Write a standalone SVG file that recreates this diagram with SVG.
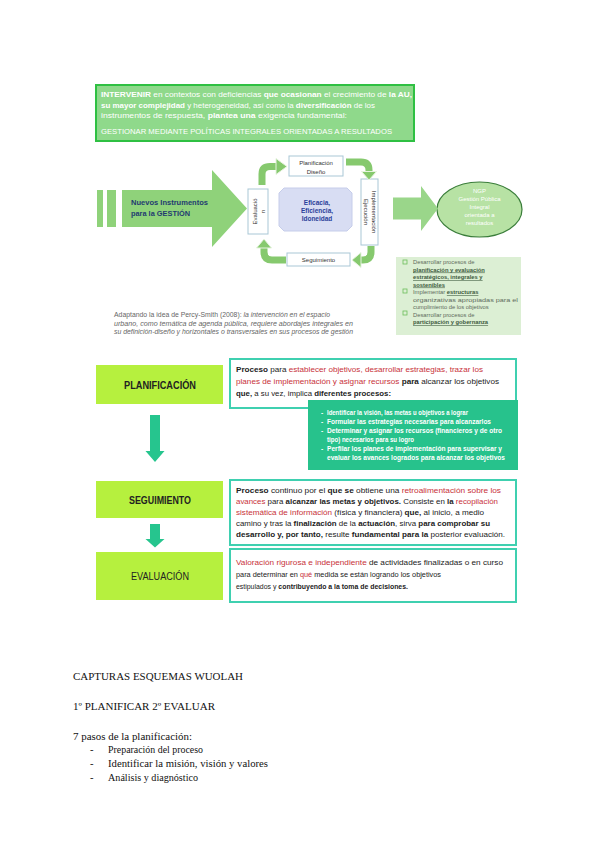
<svg xmlns="http://www.w3.org/2000/svg" width="600" height="848" viewBox="0 0 600 848">
<style>
.s{font-family:"Liberation Sans","Open Sans",sans-serif}
.w{fill:#ffffff}
.b{font-weight:bold}
.r{fill:#c8323a}
.sm{font-size:6px;fill:#333}
.box{fill:#ffffff;stroke:#a9c7d6;stroke-width:1}
.lab{fill:#b6f03e}
.tb{fill:#ffffff;stroke:#3fd0b0;stroke-width:2}
.bt{font-size:7.5px;fill:#222}
.ca{fill:#86c96e;stroke:#e6f3df;stroke-width:1}
.cs{fill:none;stroke:#86c96e;stroke-width:7}
.li{font-size:5.8px;fill:#5d6b5d}
.lu{text-decoration:underline;fill:#3d5a3d;font-weight:bold}
.tt{font-size:6.6px;fill:#ffffff;font-weight:bold}
.doc{font-family:"Liberation Serif","Times New Roman",serif;font-size:10.5px;fill:#111}
</style>
<rect width="600" height="848" fill="#ffffff"/>

<g id="top-box">
<rect x="96" y="85" width="318" height="56" fill="#8fd98b" stroke="#2fc043" stroke-width="2"/>
<text class="s w" font-size="7.4" x="101" y="97" textLength="311" lengthAdjust="spacingAndGlyphs"><tspan class="b">INTERVENIR</tspan> en contextos con deficiencias <tspan class="b">que ocasionan</tspan> el crecimiento de <tspan class="b">la AU,</tspan></text>
<text class="s w" font-size="7.4" x="101" y="107.5" textLength="274" lengthAdjust="spacingAndGlyphs"><tspan class="b">su mayor complejidad</tspan> y heterogeneidad, así como la <tspan class="b">diversificación</tspan> de los</text>
<text class="s w" font-size="7.4" x="101" y="118" textLength="246" lengthAdjust="spacingAndGlyphs">instrumentos de respuesta, <tspan class="b">plantea una</tspan> exigencia fundamental:</text>
<text class="s w" font-size="7.4" x="101" y="134" textLength="291" lengthAdjust="spacingAndGlyphs">GESTIONAR MEDIANTE POLÍTICAS INTEGRALES ORIENTADAS A RESULTADOS</text>
</g>

<g id="nuevos-instrumentos">
<rect x="97" y="190" width="6" height="37" fill="#8fd27a"/>
<rect x="107" y="190" width="9" height="37" fill="#8fd27a"/>
<polygon points="122,190 212,190 212,170 247,208.5 212,247 212,227 122,227" fill="#8fd27a"/>
<text class="s b" font-size="7.5" fill="#1f3b70" x="131" y="205" textLength="77" lengthAdjust="spacingAndGlyphs">Nuevos Instrumentos</text>
<text class="s b" font-size="7.5" fill="#1f3b70" x="131" y="216" textLength="59" lengthAdjust="spacingAndGlyphs">para la GESTIÓN</text>
</g>

<g id="evaluacion">
<rect class="box" x="248" y="189" width="20" height="45"/>
<g transform="translate(258,211.5) rotate(-90)">
<text class="s sm" x="0" y="-1" text-anchor="middle">Evaluació</text>
<text class="s sm" x="0" y="7" text-anchor="middle">n</text>
</g>
</g>

<g id="planificacion-diseno">
<rect class="box" x="289" y="156" width="54" height="20"/>
<text class="s sm" x="316" y="165" text-anchor="middle">Planificación</text>
<text class="s sm" x="316" y="173.5" text-anchor="middle">Diseño</text>
</g>

<g id="eficacia">
<path d="M284 188 L347 188 L352 193 L352 226 L347 231 L284 231 L279 226 L279 193 Z" fill="#d8ddf3" stroke="#c6cdea" stroke-width="1"/>
<text class="s b" font-size="6.5" fill="#2b3f9a" x="317" y="205" text-anchor="middle">Eficacia,</text>
<text class="s b" font-size="6.5" fill="#2b3f9a" x="317" y="213" text-anchor="middle">Eficiencia,</text>
<text class="s b" font-size="6.5" fill="#2b3f9a" x="317" y="221" text-anchor="middle">Idoneidad</text>
</g>

<g id="implementacion">
<rect class="box" x="361" y="179" width="17" height="66"/>
<g transform="translate(369.5,212) rotate(90)">
<text class="s sm" x="0" y="-2" text-anchor="middle">Implementación</text>
<text class="s sm" x="0" y="6" text-anchor="middle">Ejecución</text>
</g>
</g>

<g id="seguimiento-small">
<rect class="box" x="287" y="253" width="63" height="13"/>
<text class="s sm" x="318.5" y="262" text-anchor="middle">Seguimiento</text>
</g>

<g id="ngp">
<ellipse cx="479.5" cy="209.5" rx="42.5" ry="27.5" fill="#b7e2a4" stroke="#3a7d3a" stroke-width="1.2"/>
<text class="s w" font-size="6" x="479.5" y="193" text-anchor="middle">NGP</text>
<text class="s w" font-size="6" x="479.5" y="201" text-anchor="middle">Gestión Pública</text>
<text class="s w" font-size="6" x="479.5" y="209" text-anchor="middle">Integral</text>
<text class="s w" font-size="6" x="479.5" y="217" text-anchor="middle">orientada a</text>
<text class="s w" font-size="6" x="479.5" y="225" text-anchor="middle">resultados</text>
</g>

<g id="lista">
<rect x="396" y="257" width="125" height="78" fill="#dcefd4"/>
<rect x="403" y="260" width="4" height="4" fill="none" stroke="#6cbf5a" stroke-width="0.8"/>
<rect x="403" y="289" width="4" height="4" fill="none" stroke="#6cbf5a" stroke-width="0.8"/>
<rect x="403" y="311" width="4" height="4" fill="none" stroke="#6cbf5a" stroke-width="0.8"/>
<text class="s li" x="413" y="264">Desarrollar procesos de</text>
<text class="s li" x="413" y="271.5"><tspan class="lu">planificación y evaluación</tspan></text>
<text class="s li" x="413" y="279"><tspan class="lu">estratégicos, integrales y</tspan></text>
<text class="s li" x="413" y="286.5"><tspan class="lu">sostenibles</tspan></text>
<text class="s li" x="413" y="294">Implementar <tspan class="lu">estructuras</tspan></text>
<text class="s li" x="413" y="301.5" textLength="105" lengthAdjust="spacingAndGlyphs">organizativas apropiadas para el</text>
<text class="s li" x="413" y="309">cumplimiento de los objetivos</text>
<text class="s li" x="413" y="316.5">Desarrollar procesos de</text>
<text class="s li" x="413" y="324"><tspan class="lu">participación y gobernanza</tspan></text>
</g>

<g id="cita">
<text class="s" font-size="6.5" fill="#666" x="114" y="317" textLength="216" lengthAdjust="spacingAndGlyphs">Adaptando la idea de Percy-Smith (2008): <tspan font-style="italic">la intervención en el espacio</tspan></text>
<text class="s" font-size="6.5" fill="#666" font-style="italic" x="114" y="325.5" textLength="239" lengthAdjust="spacingAndGlyphs">urbano, como temática de agenda pública, requiere abordajes integrales en</text>
<text class="s" font-size="6.5" fill="#666" font-style="italic" x="114" y="334" textLength="239" lengthAdjust="spacingAndGlyphs">su definición-diseño y horizontales o transversales en sus procesos de gestión</text>
</g>

<g id="connectors">
<path class="cs" d="M262 185 L262 174 Q262 166.5 270 166.5 L277 166.5"/>
<polygon class="ca" points="276,158.5 287,166.5 276,174.5"/>
<path class="cs" d="M346 162 L361 162 Q369 162 369 170 L369 172"/>
<polygon class="ca" points="361.5,171.5 376.5,171.5 369,180"/>
<path class="cs" d="M371 246 L371 252 Q371 260 363 260 L360 260"/>
<polygon class="ca" points="361,252.5 361,267.5 352,260"/>
<path class="cs" d="M286 260 L272 260 Q264 260 264 252 L264 247"/>
<polygon class="ca" points="256.5,248 271.5,248 264,239"/>
<polygon points="393,197.5 421,197.5 421,186 438,208.5 421,231 421,219.5 393,219.5" fill="#9ad68a"/>
<polygon points="150,415 160,415 160,451 164.5,451 155,462 145.5,451 150,451" fill="#26c58e"/>
<polygon points="150,524 160,524 160,539 164.5,539 155,547.5 145.5,539 150,539" fill="#26c58e"/>
</g>

<g id="planificacion">
<rect class="lab" x="96" y="365" width="127" height="39"/>
<text class="s b" font-size="10" fill="#222" x="160" y="389" text-anchor="middle" textLength="72" lengthAdjust="spacingAndGlyphs">PLANIFICACIÓN</text>
</g>
<g id="planificacion-texto">
<rect class="tb" x="230" y="359" width="286" height="49"/>
<text class="s bt" x="236" y="372" textLength="247" lengthAdjust="spacingAndGlyphs"><tspan class="b">Proceso</tspan> para <tspan class="r">establecer objetivos, desarrollar estrategias, trazar los</tspan></text>
<text class="s bt" x="236" y="384" textLength="263" lengthAdjust="spacingAndGlyphs"><tspan class="r">planes de implementación y asignar recursos</tspan> <tspan class="b">para</tspan> alcanzar los objetivos</text>
<text class="s bt" x="236" y="396" textLength="155" lengthAdjust="spacingAndGlyphs"><tspan class="b">que,</tspan> a su vez, implica <tspan class="b">diferentes procesos:</tspan></text>
</g>
<g id="procesos">
<rect x="308" y="400" width="210" height="70" fill="#27c28c"/>
<text class="s tt" x="321" y="415">-</text>
<text class="s tt" x="327" y="415" textLength="141" lengthAdjust="spacingAndGlyphs">Identificar la visión, las metas u objetivos a lograr</text>
<text class="s tt" x="321" y="424">-</text>
<text class="s tt" x="327" y="424" textLength="164" lengthAdjust="spacingAndGlyphs">Formular las estrategias necesarias para alcanzarlos</text>
<text class="s tt" x="321" y="433">-</text>
<text class="s tt" x="327" y="433" textLength="175" lengthAdjust="spacingAndGlyphs">Determinar y asignar los recursos (financieros y de otro</text>
<text class="s tt" x="327" y="442" textLength="87" lengthAdjust="spacingAndGlyphs">tipo) necesarios para su logro</text>
<text class="s tt" x="321" y="451">-</text>
<text class="s tt" x="327" y="451" textLength="175" lengthAdjust="spacingAndGlyphs">Perfilar los planes de implementación para supervisar y</text>
<text class="s tt" x="327" y="460" textLength="178" lengthAdjust="spacingAndGlyphs">evaluar los avances logrados para alcanzar los objetivos</text>
</g>

<g id="seguimiento">
<rect class="lab" x="96" y="481" width="127" height="37"/>
<text class="s b" font-size="10" fill="#222" x="160" y="503.5" text-anchor="middle" textLength="62" lengthAdjust="spacingAndGlyphs">SEGUIMIENTO</text>
</g>
<g id="seguimiento-texto">
<rect class="tb" x="230" y="480" width="286" height="65"/>
<text class="s bt" x="236" y="493" textLength="265" lengthAdjust="spacingAndGlyphs"><tspan class="b">Proceso</tspan> continuo por el <tspan class="b">que se</tspan> obtiene una <tspan class="r">retroalimentación sobre los</tspan></text>
<text class="s bt" x="236" y="504" textLength="262" lengthAdjust="spacingAndGlyphs"><tspan class="r">avances</tspan> para <tspan class="b">alcanzar las metas y objetivos.</tspan> Consiste en <tspan class="b">la</tspan> <tspan class="r">recopilación</tspan></text>
<text class="s bt" x="236" y="515" textLength="248" lengthAdjust="spacingAndGlyphs"><tspan class="r">sistemática de información</tspan> (física y financiera) <tspan class="b">que,</tspan> al inicio, a medio</text>
<text class="s bt" x="236" y="526" textLength="254" lengthAdjust="spacingAndGlyphs">camino y tras la <tspan class="b">finalización</tspan> de la <tspan class="b">actuación</tspan>, sirva <tspan class="b">para comprobar su</tspan></text>
<text class="s bt" x="236" y="537" textLength="269" lengthAdjust="spacingAndGlyphs"><tspan class="b">desarrollo y, por tanto,</tspan> resulte <tspan class="b">fundamental para la</tspan> posterior evaluación.</text>
</g>

<g id="evaluacion-lab">
<rect class="lab" x="96" y="552" width="127" height="48"/>
<text class="s" font-size="10" fill="#222" x="160" y="580" text-anchor="middle" textLength="58" lengthAdjust="spacingAndGlyphs">EVALUACIÓN</text>
</g>
<g id="evaluacion-texto">
<rect class="tb" x="230" y="549" width="286" height="53"/>
<text class="s bt" x="236" y="565" textLength="267" lengthAdjust="spacingAndGlyphs"><tspan class="r">Valoración rigurosa e independiente</tspan> de actividades finalizadas o en curso</text>
<text class="s bt" x="236" y="577" textLength="205" lengthAdjust="spacingAndGlyphs">para determinar en <tspan class="r">qué</tspan> medida se están logrando los objetivos</text>
<text class="s bt" x="236" y="589" textLength="172" lengthAdjust="spacingAndGlyphs">estipulados y <tspan class="b">contribuyendo a la toma de decisiones.</tspan></text>
</g>

<g id="documento">
<text class="doc" x="73" y="680" textLength="170" lengthAdjust="spacingAndGlyphs">CAPTURAS ESQUEMAS WUOLAH</text>
<text class="doc" x="73" y="710" textLength="142" lengthAdjust="spacingAndGlyphs">1º PLANIFICAR 2º EVALUAR</text>
<text class="doc" x="73" y="740" textLength="119" lengthAdjust="spacingAndGlyphs">7 pasos de la planificación:</text>
<text class="doc" x="90" y="753">-</text>
<text class="doc" x="108" y="753" textLength="95" lengthAdjust="spacingAndGlyphs">Preparación del proceso</text>
<text class="doc" x="90" y="767">-</text>
<text class="doc" x="108" y="767" textLength="160" lengthAdjust="spacingAndGlyphs">Identificar la misión, visión y valores</text>
<text class="doc" x="90" y="781">-</text>
<text class="doc" x="108" y="781" textLength="90" lengthAdjust="spacingAndGlyphs">Análisis y diagnóstico</text>
</g>
</svg>
